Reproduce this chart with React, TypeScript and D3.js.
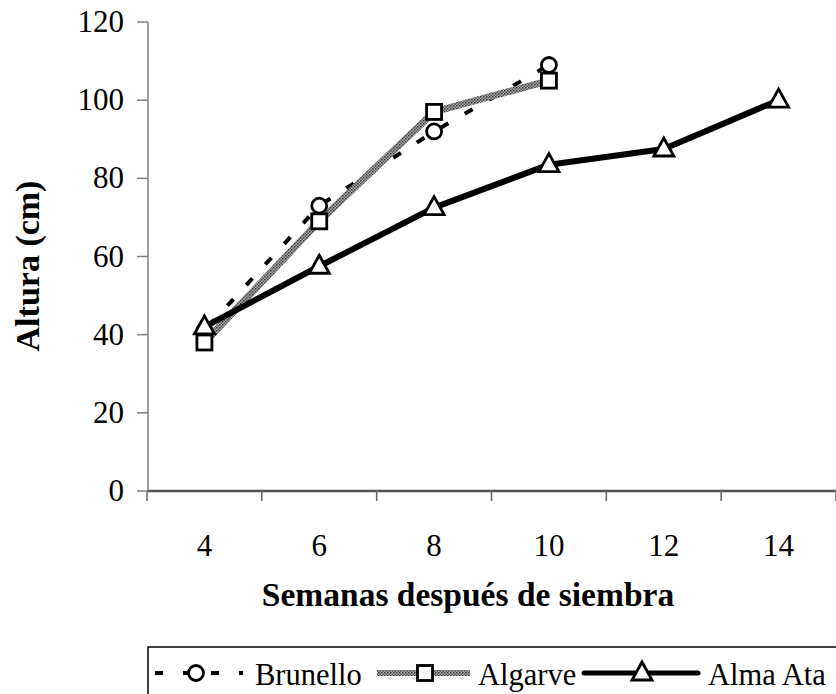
import React from "react";
import * as d3 from "d3";

const weeks = ["4", "6", "8", "10", "12", "14"];
const yTicks = [0, 20, 40, 60, 80, 100, 120];
const brunello: (number | null)[] = [41, 73, 92, 109, null, null];
const algarve: (number | null)[] = [38, 69, 97, 105, null, null];
const almaAta: (number | null)[] = [42, 57.5, 72.5, 83.5, 87.5, 100];
const seriesNames = ["Brunello", "Algarve", "Alma Ata"];
const xTitle = "Semanas después de siembra";
const yTitle = "Altura (cm)";

const W = 836;
const H = 694;
const FONT = "Liberation Serif";

export default function App() {
  const x = d3.scaleBand<string>().domain(weeks).range([147, 836]).paddingInner(0).paddingOuter(0);
  const y = d3.scaleLinear().domain([0, 120]).range([491, 22]);
  const cx = (w: string) => (x(w) as number) + x.bandwidth() / 2;

  const line = d3
    .line<[string, number | null]>()
    .defined((d) => d[1] !== null)
    .x((d) => cx(d[0]))
    .y((d) => y(d[1] as number));

  const pts = (vals: (number | null)[]) =>
    weeks.map((w, i) => [w, vals[i]] as [string, number | null]);

  const circle = (px: number, py: number, key: string) => (
    <circle key={key} cx={px} cy={py} r={7.5} fill="#fff" stroke="#000" strokeWidth={2.8} />
  );
  const square = (px: number, py: number, key: string) => (
    <rect key={key} x={px - 7.5} y={py - 7.5} width={15} height={15} fill="#fff" stroke="#000" strokeWidth={2.8} />
  );
  const tri = (px: number, py: number, key: string) => (
    <path
      key={key}
      d={`M${px},${py - 11}L${px + 10},${py + 7}L${px - 10},${py + 7}Z`}
      fill="#fff"
      stroke="#000"
      strokeWidth={2.8}
      strokeLinejoin="miter"
    />
  );

  const boundaries = weeks.map((w) => x(w) as number).concat([(x(weeks[weeks.length - 1]) as number) + x.bandwidth()]);

  const legendY = 673;
  const textStyle = { fontFamily: FONT };

  return (
    <svg
      width={W}
      height={H}
      style={{ position: "absolute", left: 0, top: 0, background: "#fff", fontFamily: FONT }}
    >
      <defs>
        <pattern id="hatch" patternUnits="userSpaceOnUse" width={3} height={3}>
          <rect width={3} height={3} fill="#b0b0b0" />
          <rect width={1.5} height={1.5} fill="#333" />
          <rect x={1.5} y={1.5} width={1.5} height={1.5} fill="#555" />
        </pattern>
      </defs>
      <rect width={W} height={H} fill="#fff" />

      {/* y axis */}
      <line x1={148} x2={148} y1={y(120)} y2={y(0)} stroke="#808080" strokeWidth={1.5} />
      {yTicks.map((t) => (
        <g key={t}>
          <line x1={137} x2={148} y1={y(t)} y2={y(t)} stroke="#808080" strokeWidth={1.5} />
          <text x={124} y={y(t) + 10} textAnchor="end" fontSize={31} fill="#000" style={textStyle}>
            {t}
          </text>
        </g>
      ))}

      {/* x axis */}
      <line x1={148} x2={836} y1={y(0)} y2={y(0)} stroke="#555" strokeWidth={2.5} />
      {boundaries.map((b, i) => (
        <line key={i} x1={b} x2={b} y1={y(0)} y2={y(0) + 10} stroke="#666" strokeWidth={1.5} />
      ))}
      {weeks.map((w) => (
        <text key={w} x={cx(w)} y={556} textAnchor="middle" fontSize={31} fill="#000" style={textStyle}>
          {w}
        </text>
      ))}

      {/* titles */}
      <text x={468} y={606} textAnchor="middle" fontSize={33.5} fontWeight="bold" fill="#000" style={textStyle}>
        {xTitle}
      </text>
      <text
        transform={`translate(39,266) rotate(-90)`}
        textAnchor="middle"
        fontSize={34}
        fontWeight="bold"
        fill="#000"
        style={textStyle}
      >
        {yTitle}
      </text>

      {/* lines */}
      <path d={line(pts(brunello)) || ""} fill="none" stroke="#000" strokeWidth={4} strokeDasharray="9 19" strokeDashoffset={-6} />
      <path d={line(pts(algarve)) || ""} fill="none" stroke="url(#hatch)" strokeWidth={7} />
      <path d={line(pts(almaAta)) || ""} fill="none" stroke="#000" strokeWidth={6} strokeLinejoin="round" />

      {/* markers */}
      {weeks.map((w, i) => (brunello[i] !== null ? circle(cx(w), y(brunello[i] as number), "b" + w) : null))}
      {weeks.map((w, i) => (algarve[i] !== null ? square(cx(w), y(algarve[i] as number), "a" + w) : null))}
      {weeks.map((w, i) => (almaAta[i] !== null ? tri(cx(w), y(almaAta[i] as number), "m" + w) : null))}

      {/* legend */}
      <rect x={148} y={647} width={720} height={80} fill="#fff" stroke="#000" strokeWidth={1.5} />
      <line x1={155} x2={243} y1={legendY} y2={legendY} stroke="#000" strokeWidth={4} strokeDasharray="8 20" />
      {circle(196, legendY, "lb")}
      <text x={255} y={685} fontSize={30.5} fill="#000" style={textStyle}>
        {seriesNames[0]}
      </text>
      <line x1={377} x2={470} y1={legendY} y2={legendY} stroke="url(#hatch)" strokeWidth={6} />
      {square(425, legendY, "la")}
      <text x={478} y={685} fontSize={30.5} fill="#000" style={textStyle}>
        {seriesNames[1]}
      </text>
      <line x1={584} x2={698} y1={legendY} y2={legendY} stroke="#000" strokeWidth={5} strokeLinecap="round" />
      {tri(642, legendY, "lm")}
      <text x={708} y={685} fontSize={30.5} fill="#000" style={textStyle}>
        {seriesNames[2]}
      </text>
    </svg>
  );
}
